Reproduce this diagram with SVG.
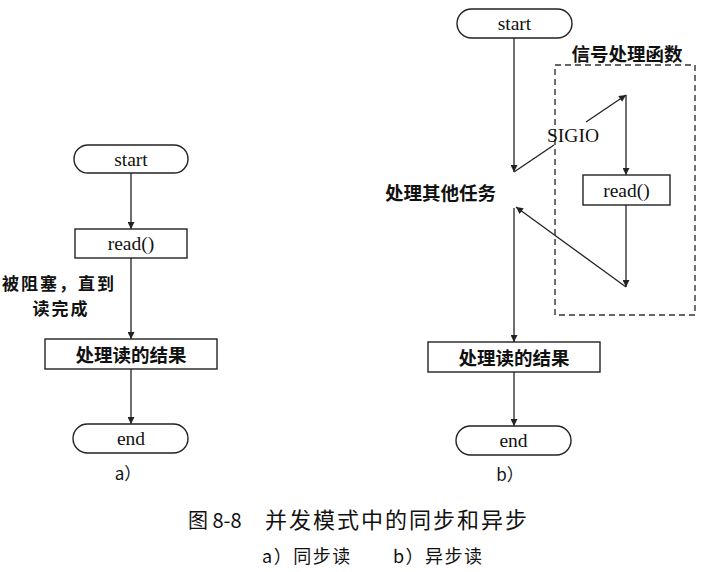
<svg xmlns="http://www.w3.org/2000/svg" width="712" height="572" viewBox="0 0 712 572">
<style>
.shape{fill:#fff;stroke:#222;stroke-width:1.4}
.lat{font-family:"Liberation Serif","Times New Roman",serif;font-size:19.5px;fill:#111;text-anchor:middle;dominant-baseline:central}
.cjk{font-family:"Noto Sans CJK SC","Noto Sans",sans-serif;font-size:18.5px;font-weight:bold;fill:#111;dominant-baseline:central}
.small{font-size:17px;letter-spacing:2px}
.capc{font-family:"Noto Sans CJK SC",sans-serif;fill:#111}
.edge{fill:none;stroke:#222;stroke-width:1.3}
.dash{fill:none;stroke:#333;stroke-width:1.4;stroke-dasharray:6 4}
</style>
<defs>
<marker id="arr" viewBox="0 0 10 10" refX="10" refY="5" markerWidth="9" markerHeight="7" markerUnits="userSpaceOnUse" orient="auto">
<path d="M0,0 L10,5 L0,10 z" fill="#222"/>
</marker>
</defs>
<rect width="712" height="572" fill="#fff"/>

<!-- Diagram a -->
<g id="a-start"><rect class="shape" x="74" y="145" width="114" height="28" rx="14"/><text class="lat" x="131" y="159">start</text></g>
<g id="a-read"><rect class="shape" x="75" y="229" width="112" height="29"/><text class="lat" x="131" y="243.5">read()</text></g>
<g id="a-block-label"><text class="cjk small" x="2" y="282">被阻塞，直到</text><text class="cjk small" x="61" y="307" text-anchor="middle">读完成</text></g>
<g id="a-process"><rect class="shape" x="45" y="339" width="172" height="30"/><text class="cjk" x="131" y="354" text-anchor="middle">处理读的结果</text></g>
<g id="a-end"><rect class="shape" x="73" y="424" width="115" height="29" rx="14.5"/><text class="lat" x="131" y="438.5">end</text></g>
<g id="a-label"><text class="capc" x="128" y="472" text-anchor="middle" dominant-baseline="central" font-size="17">a）</text></g>

<!-- Diagram b -->
<g id="b-start"><rect class="shape" x="457" y="9" width="115" height="29" rx="14.5"/><text class="lat" x="514.5" y="23.5">start</text></g>
<g id="b-handler"><rect class="dash" x="555" y="65" width="140" height="250"/><text class="cjk" x="627" y="53" text-anchor="middle">信号处理函数</text></g>
<g id="b-other"><text class="cjk" x="385" y="192">处理其他任务</text></g>
<g id="b-sigio"><text class="lat" x="573" y="135">SIGIO</text></g>
<g id="b-read"><rect class="shape" x="583" y="175" width="87" height="30"/><text class="lat" x="626.5" y="190">read()</text></g>
<g id="b-process"><rect class="shape" x="428" y="342" width="172" height="30"/><text class="cjk" x="514" y="357" text-anchor="middle">处理读的结果</text></g>
<g id="b-end"><rect class="shape" x="456" y="426" width="115" height="29" rx="14.5"/><text class="lat" x="513.5" y="440.5">end</text></g>
<g id="b-label"><text class="capc" x="510" y="473" text-anchor="middle" dominant-baseline="central" font-size="17">b）</text></g>

<!-- Connectors -->
<g id="connectors">
<line class="edge" x1="131" y1="173" x2="131" y2="229" marker-end="url(#arr)"/>
<line class="edge" x1="131" y1="258" x2="131" y2="339" marker-end="url(#arr)"/>
<line class="edge" x1="131" y1="369" x2="131" y2="424" marker-end="url(#arr)"/>

<line class="edge" x1="514" y1="38" x2="514" y2="172" marker-end="url(#arr)"/>
<line class="edge" x1="514" y1="172" x2="554" y2="145"/>
<line class="edge" x1="586" y1="122" x2="626" y2="95" marker-end="url(#arr)"/>
<line class="edge" x1="626" y1="95" x2="626" y2="175" marker-end="url(#arr)"/>
<line class="edge" x1="626" y1="205" x2="626" y2="287" marker-end="url(#arr)"/>
<line class="edge" x1="626" y1="287" x2="516" y2="207" marker-end="url(#arr)"/>
<line class="edge" x1="514" y1="208" x2="514" y2="342" marker-end="url(#arr)"/>
<line class="edge" x1="514" y1="372" x2="514" y2="426" marker-end="url(#arr)"/>
</g>

<!-- Caption -->
<g id="caption">
<text class="capc" x="188" y="528" font-size="20">图 8-8</text>
<text class="capc" x="265" y="528" font-size="22" letter-spacing="2">并发模式中的同步和异步</text>
<text class="capc" x="262" y="563" font-size="18" letter-spacing="1.5">a）同步读</text>
<text class="capc" x="393" y="563" font-size="18" letter-spacing="1.5">b）异步读</text>
</g>
</svg>
